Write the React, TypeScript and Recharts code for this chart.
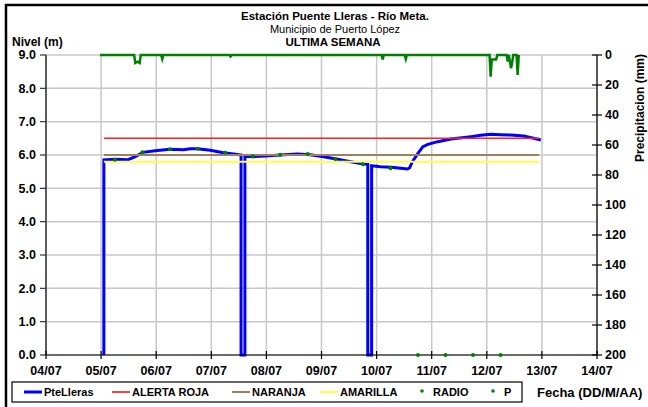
import React from 'react';
import { ComposedChart, Line, XAxis, YAxis, CartesianGrid } from 'recharts';

// x = days since 04/07 00:00
const dayTicks = [0, 1, 2, 3, 4, 5, 6, 7, 8, 9, 10];
const dayLabels = ['04/07', '05/07', '06/07', '07/07', '08/07', '09/07', '10/07', '11/07', '12/07', '13/07', '14/07'];
const nivelTicks = [0, 1, 2, 3, 4, 5, 6, 7, 8, 9];
const precipTicks = [0, 20, 40, 60, 80, 100, 120, 140, 160, 180, 200];

// PteLleras (nivel, m)
const pteTimes = [
  1.05, 1.05, 1.25, 1.49, 1.62, 1.76, 1.98, 2.25, 2.49, 2.62, 2.75, 2.98, 3.22, 3.44, 3.54,
  3.54, 3.61, 3.61, 3.76, 3.98, 4.25, 4.56, 4.8, 5.04, 5.29, 5.53, 5.76, 5.84,
  5.84, 5.91, 5.91, 6.07, 6.27, 6.44, 6.56, 6.6, 6.65, 6.75, 6.84, 6.93, 7.11, 7.35, 7.55,
  7.71, 7.89, 8.07, 8.25, 8.44, 8.67, 8.85, 8.98,
];
const pteValues = [
  0, 5.85, 5.87, 5.86, 5.95, 6.08, 6.13, 6.17, 6.16, 6.19, 6.19, 6.14, 6.07, 6.02, 6.0,
  0, 0, 5.96, 5.95, 5.97, 6.0, 6.03, 6.01, 5.95, 5.87, 5.8, 5.73, 5.72,
  0, 0, 5.68, 5.65, 5.63, 5.6, 5.58, 5.62, 5.8, 6.05, 6.25, 6.32, 6.4, 6.48, 6.52,
  6.55, 6.59, 6.62, 6.61, 6.6, 6.57, 6.5, 6.45,
];

// umbrales
const umbralTimes = [1.05, 8.95];
const alertaRoja = 6.5;
const naranja = 6.0;
const amarilla = 5.8;

// RADIO (nivel, m)
const radioTimes = [1.25, 1.75, 2.25, 2.75, 3.25, 3.75, 4.25, 4.75, 5.25, 5.75, 6.25, 6.75, 7.25, 7.75, 8.25];
const radioValues = [5.86, 6.08, 6.17, 6.19, 6.07, 5.96, 6.01, 6.03, 5.88, 5.72, 5.6, 0, 0, 0, 0];

// P (precipitacion, mm)
const pTimes = [
  0.98, 1.6, 1.62, 1.66, 1.7, 1.72, 2.09, 2.11, 2.13, 3.33, 3.35, 3.37, 6.09, 6.11, 6.13,
  6.51, 6.53, 6.55, 8.05, 8.07, 8.09, 8.13, 8.17, 8.19, 8.36, 8.38, 8.4, 8.44, 8.46, 8.48,
  8.54, 8.56, 8.58,
];
const pValues = [
  0, 0, 5.3, 4.5, 5.3, 0, 0, 2.7, 0, 0, 1, 0, 0, 3, 0,
  0, 2.7, 0, 0, 14.5, 3, 3, 3, 0, 0, 4.4, 0, 8.9, 5, 0,
  0, 13.3, 0,
];

const pteData = pteTimes.map((t, i) => ({ t, v: pteValues[i] }));
const rojaData = umbralTimes.map((t) => ({ t, v: alertaRoja }));
const naranjaData = umbralTimes.map((t) => ({ t, v: naranja }));
const amarillaData = umbralTimes.map((t) => ({ t, v: amarilla }));
const radioData = radioTimes.map((t, i) => ({ t, v: radioValues[i] }));
const pData = pTimes.map((t, i) => ({ t, v: pValues[i] }));

const FONT = 'Arial, "Liberation Sans", sans-serif';

const XTick = (props: any) => {
  const { x, y, payload } = props;
  return (
    <g>
      <line x1={x} x2={x} y1={y - 15} y2={y - 7} stroke="#000" strokeWidth={1.2} />
      <text x={x} y={y} dy="0.71em" textAnchor="middle" fontSize={12.5} fontWeight="bold" fontFamily={FONT} fill="#000">
        {dayLabels[dayTicks.indexOf(payload.value)]}
      </text>
    </g>
  );
};

const PTick = (props: any) => {
  const { x, y, payload } = props;
  return (
    <g>
      <line x1={x - 13} x2={x - 3} y1={y} y2={y} stroke="#000" strokeWidth={1.2} />
      <text x={x} y={y} dy="0.355em" textAnchor="start" fontSize={12.5} fontWeight="bold" fontFamily={FONT} fill="#000">
        {payload.value}
      </text>
    </g>
  );
};

const legendItems = [
  { name: 'PteLleras', color: '#0000ff', kind: 'line', x: 24, w: 3 },
  { name: 'ALERTA ROJA', color: '#ff4040', kind: 'line', x: 112, w: 2 },
  { name: 'NARANJA', color: '#a0805a', kind: 'line', x: 232, w: 2 },
  { name: 'AMARILLA', color: '#ffff40', kind: 'line', x: 320, w: 2 },
  { name: 'RADIO', color: '#008000', kind: 'dot', x: 416, w: 0 },
  { name: 'P', color: '#008000', kind: 'dot', x: 487, w: 0 },
];

export default function App() {
  return (
    <div style={{ position: 'absolute', left: 0, top: 0, width: 648, height: 407, background: '#fff', overflow: 'hidden' }}>
      <ComposedChart width={648} height={407} margin={{ top: 55, right: 6, bottom: 22, left: 6 }}>
        <CartesianGrid yAxisId="nivel" stroke="#c8c8c8" strokeWidth={1.5} ticks={nivelTicks as any} />
        <XAxis
          dataKey="t"
          type="number"
          domain={[0, 10]}
          ticks={dayTicks}
          allowDataOverflow
          height={30}
          tickSize={4}
          tickMargin={7}
          tickLine={false}
          axisLine={{ stroke: '#000', strokeWidth: 1.2 }}
          tick={<XTick />}
          interval={0}
        />
        <YAxis
          yAxisId="nivel"
          domain={[0, 9]}
          ticks={nivelTicks}
          width={40}
          tickSize={6}
          tickMargin={4}
          interval={0}
          tickFormatter={(v: number) => v.toFixed(1)}
          tick={{ fontSize: 12.5, fontWeight: 'bold', fill: '#000', fontFamily: FONT }}
          tickLine={{ stroke: '#333', strokeWidth: 1.2 }}
          axisLine={{ stroke: '#333', strokeWidth: 1.5 }}
        />
        <YAxis
          yAxisId="p"
          orientation="right"
          domain={[0, 200]}
          reversed
          ticks={precipTicks}
          width={45}
          tickSize={5}
          tickMargin={3}
          interval={0}
          tickLine={false}
          axisLine={{ stroke: '#000', strokeWidth: 1.2 }}
          tick={<PTick />}
        />
        <Line data={pteData} dataKey="v" yAxisId="nivel" type="linear" stroke="#0000ff" strokeWidth={3} dot={false} isAnimationActive={false} />
        <Line data={rojaData} dataKey="v" yAxisId="nivel" type="linear" stroke="#ff2020" strokeWidth={1.5} dot={false} isAnimationActive={false} />
        <Line data={naranjaData} dataKey="v" yAxisId="nivel" type="linear" stroke="#a0805a" strokeWidth={2} dot={false} isAnimationActive={false} />
        <Line data={amarillaData} dataKey="v" yAxisId="nivel" type="linear" stroke="#ffff40" strokeWidth={2} dot={false} isAnimationActive={false} />
        <Line
          data={radioData}
          dataKey="v"
          yAxisId="nivel"
          type="linear"
          stroke="none"
          dot={{ r: 2, fill: '#008000', stroke: 'none' }}
          isAnimationActive={false}
        />
        <Line data={pData} dataKey="v" yAxisId="p" type="linear" stroke="#008000" strokeWidth={2.5} dot={false} isAnimationActive={false} />
      </ComposedChart>
      <svg width={648} height={407} style={{ position: 'absolute', left: 0, top: 0, pointerEvents: 'none' }} fontFamily={FONT}>
        <rect x={6} y={5} width={700} height={450} fill="none" stroke="#000" strokeWidth={2.5} />
        <text x={335} y={20} textAnchor="middle" fontSize={11.5} fontWeight="bold">Estación Puente Lleras - Río Meta.</text>
        <text x={335} y={33} textAnchor="middle" fontSize={11}>Municipio de Puerto López</text>
        <text x={333} y={46} textAnchor="middle" fontSize={11.5} fontWeight="bold">ULTIMA SEMANA</text>
        <text x={12} y={46} fontSize={12} fontWeight="bold">Nivel (m)</text>
        <text x={0} y={0} transform="translate(644,108) rotate(-90)" textAnchor="middle" fontSize={12} fontWeight="bold">Precipitacion (mm)</text>
        <text x={537} y={397} fontSize={13} fontWeight="bold">Fecha (DD/M/AA)</text>
        <rect x={12} y={382} width={510} height={20} fill="#fff" stroke="#000" strokeWidth={1.2} />
        {legendItems.map((it) => (
          <g key={it.name}>
            {it.kind === 'line' ? (
              <line x1={it.x} x2={it.x + 18} y1={392} y2={392} stroke={it.color} strokeWidth={it.w} />
            ) : (
              <circle cx={it.x + 6} cy={391} r={1.8} fill={it.color} />
            )}
            <text x={it.x + (it.kind === 'line' ? 20 : 17)} y={396} fontSize={11} fontWeight="bold">{it.name}</text>
          </g>
        ))}
      </svg>
    </div>
  );
}
